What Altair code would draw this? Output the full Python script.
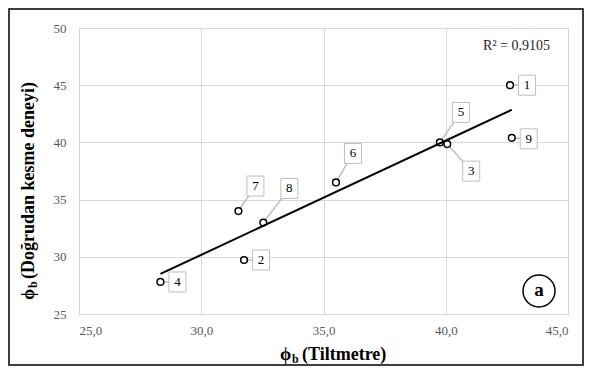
import altair as alt
import pandas as pd

# ---- data ----
point_ids = ["1", "2", "3", "4", "5", "6", "7", "8", "9"]
tiltmetre = [42.63, 31.75, 40.06, 28.33, 39.76, 35.51, 31.52, 32.54, 42.70]
direct_shear = [45.00, 29.72, 39.85, 27.80, 40.00, 36.50, 34.00, 33.00, 40.40]

# label box offsets from each point, in pixels (dx right, dy down)
label_dx = [17, 17, 24, 17, 21, 17, 17, 26, 17]
label_dy = [0, 0, 27, 0, -30, -29, -25, -34, 1]

x_ticks = [25, 30, 35, 40, 45]
y_ticks = [25, 30, 35, 40, 45, 50]
r2_text = "R² = 0,9105"
panel_letter = "a"

# ---- layout ----
W, H = 489, 286
XMIN, XMAX, YMIN, YMAX = 25, 45, 25, 50
PX_X = W / (XMAX - XMIN)
PX_Y = H / (YMAX - YMIN)
FONT = "'Liberation Serif', 'Times New Roman', serif"
BOX_HW, BOX_HH = 8.5, 10

lx = [x + dx / PX_X for x, dx in zip(tiltmetre, label_dx)]
ly = [y - dy / PX_Y for y, dy in zip(direct_shear, label_dy)]

df = pd.DataFrame({
    "id": point_ids, "x": tiltmetre, "y": direct_shear,
    "lx": lx, "ly": ly,
    "bx1": [v - BOX_HW / PX_X for v in lx], "bx2": [v + BOX_HW / PX_X for v in lx],
    "by1": [v - BOX_HH / PX_Y for v in ly], "by2": [v + BOX_HH / PX_Y for v in ly],
})

xs = alt.Scale(domain=[XMIN, XMAX], nice=False, zero=False)
ys = alt.Scale(domain=[YMIN, YMAX], nice=False, zero=False)

xaxis = alt.Axis(values=x_ticks, labelExpr="replace(format(datum.value,'.1f'),'.',',')",
                 grid=True, ticks=False, domain=False, title=None,
                 labelFont=FONT, labelFontSize=13, labelColor="#595959", labelPadding=10,
                 gridColor="#D9D9D9", gridWidth=1)
yaxis = alt.Axis(values=y_ticks, format="d", grid=True, ticks=False, domain=False, title=None,
                 labelFont=FONT, labelFontSize=13, labelColor="#595959", labelPadding=13,
                 gridColor="#D9D9D9", gridWidth=1)

base = alt.Chart(df)

leaders = base.mark_rule(color="#BFBFBF", strokeWidth=1.5).encode(
    x=alt.X("x:Q", scale=xs, axis=xaxis), y=alt.Y("y:Q", scale=ys, axis=yaxis),
    x2="lx:Q", y2="ly:Q")

boxes = base.mark_rect(fill="white", stroke="#BFBFBF", strokeWidth=1).encode(
    x=alt.X("bx1:Q", scale=xs), x2="bx2:Q", y=alt.Y("by1:Q", scale=ys), y2="by2:Q")

labels = base.mark_text(font=FONT, fontSize=13, color="black", align="center",
                        baseline="middle").encode(
    x=alt.X("lx:Q", scale=xs), y=alt.Y("ly:Q", scale=ys), text="id:N")

points = base.mark_circle(fill="white", stroke="black", strokeWidth=1.5, size=45,
                          opacity=1).encode(
    x=alt.X("x:Q", scale=xs), y=alt.Y("y:Q", scale=ys))

trend = base.transform_regression("x", "y").mark_line(color="black", strokeWidth=2).encode(
    x=alt.X("x:Q", scale=xs), y=alt.Y("y:Q", scale=ys))

r2 = alt.Chart(pd.DataFrame({"t": [r2_text]})).mark_text(
    font=FONT, fontSize=14, color="#262626", align="right", baseline="middle").encode(
    x=alt.value(471), y=alt.value(18), text="t:N")

letter_circle = alt.Chart(pd.DataFrame({"t": [panel_letter]})).mark_point(
    shape="circle", filled=False, stroke="black", strokeWidth=1.5, size=1024, opacity=1).encode(
    x=alt.value(460), y=alt.value(263))
letter = alt.Chart(pd.DataFrame({"t": [panel_letter]})).mark_text(
    font=FONT, fontSize=19, fontWeight="bold", color="black", align="center",
    baseline="middle").encode(x=alt.value(460), y=alt.value(262), text="t:N")

def txt(s, x, y, size, angle=0):
    return alt.Chart(pd.DataFrame({"t": [s]})).mark_text(
        font=FONT, fontSize=size, fontWeight="bold", color="black", align="left",
        baseline="alphabetic", angle=angle).encode(x=alt.value(x), y=alt.value(y), text="t:N")

xt = txt("ϕ", 201, 332, 18) + txt("b", 213, 335, 12) + txt("(Tiltmetre)", 223, 332, 18)
yt = (txt("ϕ", -45, 272, 18, 270) + txt("b", -42, 260, 12, 270)
      + txt("(Doğrudan kesme deneyi)", -45, 251, 18, 270))

border = alt.Chart(pd.DataFrame({"t": [0]})).mark_rect(
    fill=None, stroke="black", strokeWidth=1.5).encode(
    x=alt.value(-70), x2=alt.value(504), y=alt.value(-19), y2=alt.value(337))

chart = alt.layer(leaders, boxes, labels, points, trend, r2, letter_circle, letter,
                  xt, yt, border).properties(
    width=W, height=H,
    autosize=alt.AutoSizeParams(type="none"),
    padding={"left": 71, "top": 20, "right": 16, "bottom": 52},
).configure_view(stroke="#D9D9D9", strokeWidth=1).configure(background="white")

chart.save("out.html", embed_options={"renderer": "svg", "actions": False})
